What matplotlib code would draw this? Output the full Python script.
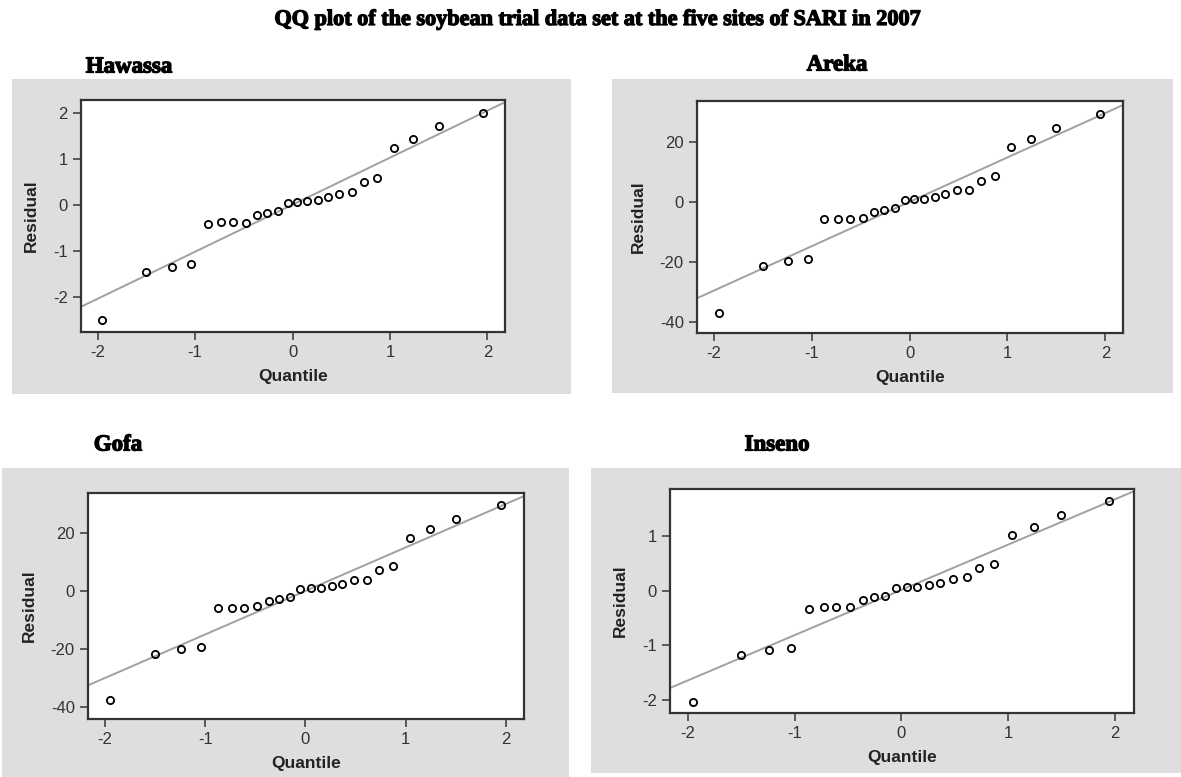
import matplotlib
matplotlib.use("Agg")
from matplotlib import pyplot as plt
from matplotlib.patches import Rectangle
import matplotlib.patheffects as pe

plt.rcParams['axes.unicode_minus'] = False

# normal quantiles on the x axis (same 24 plots at every site)
quantile = [-1.95, -1.50, -1.24, -1.04, -0.87, -0.73, -0.61, -0.48, -0.36, -0.26, -0.15, -0.05,
            0.05, 0.15, 0.26, 0.36, 0.48, 0.61, 0.73, 0.87, 1.04, 1.24, 1.50, 1.95]

# residuals
hawassa = [-2.50, -1.45, -1.33, -1.27, -0.40, -0.37, -0.37, -0.38, -0.21, -0.16, -0.13, 0.04,
           0.07, 0.08, 0.11, 0.17, 0.25, 0.28, 0.50, 0.59, 1.25, 1.43, 1.71, 2.00]
areka = [-37.1, -21.4, -19.5, -19.0, -5.7, -5.7, -5.7, -5.2, -3.3, -2.6, -1.9, 0.8,
         1.2, 1.2, 1.8, 2.6, 4.0, 4.0, 7.2, 8.7, 18.4, 21.1, 24.8, 29.4]
gofa = [-37.4, -21.6, -19.7, -19.2, -5.7, -5.7, -5.7, -5.2, -3.3, -2.5, -2.0, 0.8,
        1.3, 1.3, 1.8, 2.6, 4.0, 4.0, 7.4, 8.7, 18.5, 21.4, 24.9, 29.7]
inseno = [-2.04, -1.18, -1.08, -1.04, -0.33, -0.29, -0.29, -0.29, -0.17, -0.12, -0.10, 0.05,
          0.08, 0.08, 0.10, 0.15, 0.22, 0.25, 0.42, 0.49, 1.03, 1.18, 1.40, 1.65]

# reference line (intercept, slope) for each site
ref_lines = {"Hawassa": (0.01, 1.02), "Areka": (0.10, 14.8),
             "Gofa": (0.15, 15.0), "Inseno": (0.02, 0.83)}

sites = ["Hawassa", "Areka", "Gofa", "Inseno"]
residuals = [hawassa, areka, gofa, inseno]
x_ticks = [-2, -1, 0, 1, 2]
y_ticks = [[-2, -1, 0, 1, 2], [-40, -20, 0, 20], [-40, -20, 0, 20], [-2, -1, 0, 1]]
y_lims = [(-2.75, 2.28), (-43.6, 33.7), (-44.0, 33.9), (-2.24, 1.87)]

W, H = 1181, 777
fig = plt.figure(figsize=(W / 100, H / 100), dpi=100)

def px_box(x0, y0, x1, y1):
    # pixel box (top-left origin) -> figure fraction [left, bottom, width, height]
    return [x0 / W, 1 - y1 / H, (x1 - x0) / W, (y1 - y0) / H]

gray_boxes = [(12, 79, 571, 394), (612, 79, 1173, 393), (2, 468, 569, 777), (591, 468, 1181, 773)]
axes_boxes = [(81, 100, 505, 332), (697, 101, 1123, 333), (88, 493, 524, 719), (670, 489, 1134, 713)]
title_pos = [(129, 67), (837, 65), (118, 445), (777, 445)]

for g in gray_boxes:
    l, b, w, h = px_box(*g)
    fig.patches.append(Rectangle((l, b), w, h, transform=fig.transFigure,
                                 facecolor="#dedede", edgecolor="none", zorder=-5))

sans = "Liberation Sans"
serif = "Liberation Serif"
heavy = [pe.withStroke(linewidth=0.9, foreground="black")]

for i, site in enumerate(sites):
    ax = fig.add_axes(px_box(*axes_boxes[i]))
    ax.set_facecolor("white")
    a, b = ref_lines[site]
    ax.axline((0, a), slope=b, color="#a0a0a0", lw=1.4, zorder=1)
    ax.plot(quantile, residuals[i], linestyle="none", marker="o", ms=5.2,
            mfc="none", mec="black", mew=1.3, zorder=2)
    ax.set_xlim(-2.17, 2.18)
    ax.set_ylim(*y_lims[i])
    ax.set_xticks(x_ticks)
    ax.set_yticks(y_ticks[i])
    ax.tick_params(direction="out", length=5.5, width=1.2, color="#444444",
                   labelsize=12, labelcolor="#333333", pad=4)
    for lab in ax.get_xticklabels() + ax.get_yticklabels():
        lab.set_family(sans)
    for s in ax.spines.values():
        s.set_linewidth(1.6)
        s.set_color("#333333")
    ax.set_xlabel("Quantile", family=sans, fontweight="bold", fontsize=12.5,
                  color="#222222", labelpad=6)
    ax.set_ylabel("Residual", family=sans, fontweight="bold", fontsize=12.5,
                  color="#222222", labelpad=10)
    tx, ty = title_pos[i]
    fig.text(tx / W, 1 - ty / H, site, family=serif, fontweight="bold",
             fontsize=16.5, ha="center", va="center", path_effects=heavy)

fig.text(599 / W, 1 - 20 / H,
         "QQ plot of the soybean trial data set at the five sites of SARI in 2007",
         family=serif, fontweight="bold", fontsize=16, ha="center", va="center",
         path_effects=heavy)

fig.savefig("out.png", dpi=100, facecolor="white")
